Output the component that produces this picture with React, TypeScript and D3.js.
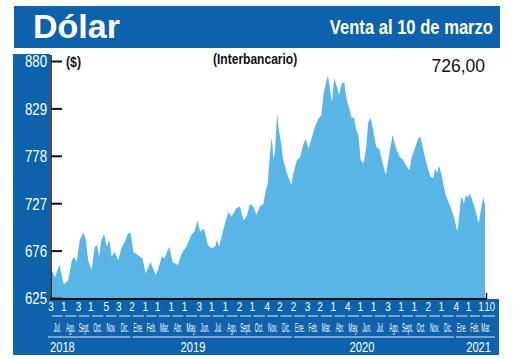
import React, { useEffect, useRef } from "react";
import * as d3 from "d3";

// dólar interbancario, venta (CLP)
const dates = [
  "2018-07-03", "2018-07-12", "2018-07-22", "2018-08-01", "2018-08-11", "2018-08-19", "2018-08-24", "2018-08-30",
  "2018-09-06", "2018-09-14", "2018-09-20", "2018-09-25", "2018-10-03", "2018-10-10", "2018-10-15", "2018-10-20",
  "2018-10-25", "2018-10-31", "2018-11-06", "2018-11-12", "2018-11-17", "2018-11-24", "2018-12-02", "2018-12-09",
  "2018-12-17", "2018-12-24", "2018-12-30", "2019-01-05", "2019-01-14", "2019-01-26", "2019-02-02", "2019-02-13",
  "2019-02-19", "2019-02-25", "2019-03-04", "2019-03-10", "2019-03-17", "2019-03-27", "2019-04-04", "2019-04-16",
  "2019-04-24", "2019-05-05", "2019-05-16", "2019-05-24", "2019-05-30", "2019-06-05", "2019-06-14", "2019-06-23",
  "2019-07-01", "2019-07-09", "2019-07-13", "2019-07-18", "2019-07-28", "2019-08-08", "2019-08-15", "2019-08-26",
  "2019-09-03", "2019-09-11", "2019-09-18", "2019-09-26", "2019-10-03", "2019-10-11", "2019-10-18", "2019-10-26",
  "2019-10-31", "2019-11-05", "2019-11-10", "2019-11-14", "2019-11-18", "2019-11-22", "2019-11-26", "2019-11-29",
  "2019-12-05", "2019-12-10", "2019-12-18", "2019-12-28", "2020-01-02", "2020-01-10", "2020-01-17", "2020-01-25",
  "2020-01-30", "2020-02-05", "2020-02-13", "2020-02-20", "2020-02-28", "2020-03-05", "2020-03-10", "2020-03-16",
  "2020-03-20", "2020-03-25", "2020-03-29", "2020-04-03", "2020-04-09", "2020-04-14", "2020-04-20", "2020-04-26",
  "2020-04-28", "2020-05-02", "2020-05-08", "2020-05-13", "2020-05-18", "2020-05-23", "2020-05-28", "2020-06-02",
  "2020-06-08", "2020-06-14", "2020-06-19", "2020-06-25", "2020-07-01", "2020-07-07", "2020-07-14", "2020-07-22",
  "2020-07-29", "2020-08-06", "2020-08-13", "2020-08-21", "2020-08-30", "2020-09-06", "2020-09-14", "2020-09-20",
  "2020-09-25", "2020-10-02", "2020-10-10", "2020-10-15", "2020-10-21", "2020-10-27", "2020-11-02", "2020-11-07",
  "2020-11-13", "2020-11-17", "2020-11-22", "2020-11-26", "2020-12-02", "2020-12-07", "2020-12-13", "2020-12-19",
  "2020-12-27", "2021-01-01", "2021-01-05", "2021-01-08", "2021-01-14", "2021-01-18", "2021-01-21", "2021-01-26",
  "2021-01-31", "2021-02-04", "2021-02-09", "2021-02-15", "2021-02-20", "2021-02-24", "2021-03-02", "2021-03-06",
  "2021-03-10",
];
const values = [
  657, 648, 661, 640, 645, 666, 670, 664,
  688, 696, 688, 666, 656, 681, 682, 670,
  688, 694, 681, 688, 670, 675, 666, 679,
  686, 695, 696, 675, 672, 668, 652, 664,
  657, 650, 659, 670, 668, 681, 664, 661,
  673, 681, 693, 698, 709, 697, 700, 682,
  679, 681, 688, 681, 700, 718, 713, 722,
  724, 709, 713, 727, 724, 715, 724, 727,
  740, 749, 781, 799, 774, 788, 824, 810,
  792, 774, 760, 747, 760, 774, 777, 792,
  797, 786, 799, 810, 819, 822, 845, 858,
  865, 849, 836, 862, 853, 844, 856, 858,
  849, 838, 828, 819, 820, 806, 801, 774,
  770, 785, 815, 819, 804, 788, 786, 770,
  758, 781, 801, 786, 777, 774, 767, 763,
  776, 786, 797, 799, 786, 774, 763, 756,
  754, 765, 760, 768, 758, 745, 734, 727,
  717, 709, 699, 700, 731, 734, 727, 736,
  734, 738, 731, 722, 713, 706, 724, 734,
  726,
];

const yTicks = [625, 676, 727, 778, 829, 880];

// first day shown for each month, Jul 2018 .. Mar 2021
const monthStarts = [
  "2018-07-03", "2018-08-01", "2018-09-03", "2018-10-01", "2018-11-05", "2018-12-03",
  "2019-01-02", "2019-02-01", "2019-03-01", "2019-04-01", "2019-05-01", "2019-06-03",
  "2019-07-01", "2019-08-01", "2019-09-02", "2019-10-01", "2019-11-04", "2019-12-02",
  "2020-01-02", "2020-02-03", "2020-03-02", "2020-04-01", "2020-05-04", "2020-06-01",
  "2020-07-01", "2020-08-03", "2020-09-01", "2020-10-01", "2020-11-02", "2020-12-01",
  "2021-01-04", "2021-02-01", "2021-03-01",
];
const monthNames = ["Ene.", "Feb.", "Mar.", "Abr.", "May.", "Jun.", "Jul.", "Ago.", "Sept.", "Oct.", "Nov.", "Dic."];

const years = ["2018", "2019", "2020", "2021"];
const yearLabelAt = ["2018-07-03", "2019-05-20", "2020-06-05", "2021-03-10"];

const title = "Dólar";
const subtitle = "Venta al 10 de marzo";
const lastValue = "726,00";

const BLUE = "#0d62ab";
const FILL = "#58b5e5";
const SANS = "'Liberation Sans', Arial, sans-serif";

const W = 520;
const H = 359;

const App = () => {
  const ref = useRef<SVGSVGElement>(null);

  useEffect(() => {
    const svg = d3.select(ref.current);
    svg.selectAll("*").remove();

    // condensed text: regular sans squeezed horizontally
    const label = (g, px, py, txt, size, sx, opts: any = {}) =>
      g.append("text")
        .attr("transform", `translate(${px},${py}) scale(${sx},1)`)
        .attr("text-anchor", opts.anchor || "start")
        .attr("dy", opts.dy || null)
        .attr("fill", opts.fill || "#fff")
        .style("font", `${opts.weight || "normal"} ${size}px ${SANS}`)
        .text(txt);

    const parse = d3.timeParse("%Y-%m-%d");
    const data = dates.map((d, i) => ({ date: parse(d) as Date, value: values[i] }));
    const start = data[0].date;
    const end = data[data.length - 1].date;

    const x = d3.scaleTime().domain([start, end]).range([51, 485]);
    const y = d3.scaleLinear().domain([625, 880]).range([298.5, 61.5]);

    // header band
    svg.append("rect").attr("x", 14).attr("y", 6).attr("width", 486).attr("height", 42).attr("fill", BLUE);
    svg.append("text")
      .attr("x", 33).attr("y", 38)
      .attr("fill", "#fff")
      .style("font", `bold 34px ${SANS}`)
      .text(title);
    label(svg, 493, 34, subtitle, 20, 0.83, { anchor: "end", weight: "bold" });

    // left column + bottom band
    svg.append("rect").attr("x", 13).attr("y", 54).attr("width", 37).attr("height", 301).attr("fill", BLUE);
    svg.append("rect").attr("x", 13).attr("y", 299).attr("width", 486).attr("height", 56).attr("fill", BLUE);

    // area
    const area = d3.area<{ date: Date; value: number }>()
      .x((d) => x(d.date))
      .y0(y(625))
      .y1((d) => y(d.value));
    svg.append("path").datum(data).attr("d", area).attr("fill", FILL);

    // axes
    svg.append("line").attr("x1", 51).attr("x2", 51).attr("y1", 55).attr("y2", 299.5)
      .attr("stroke", "#111").attr("stroke-width", 1.5);
    svg.append("line").attr("x1", 50).attr("x2", x(end) + 1.5).attr("y1", 299).attr("y2", 299)
      .attr("stroke", "#111").attr("stroke-width", 2);
    svg.append("line").attr("x1", x(end) + 1.5).attr("x2", x(end) + 1.5).attr("y1", 293).attr("y2", 299)
      .attr("stroke", "#111").attr("stroke-width", 1.5);

    const yg = svg.append("g");
    yg.selectAll("line")
      .data(yTicks)
      .enter()
      .append("line")
      .attr("x1", 51).attr("x2", 62)
      .attr("y1", (d) => y(d)).attr("y2", (d) => y(d))
      .attr("stroke", "#111").attr("stroke-width", 2);
    yTicks.forEach((t) => label(yg, 47, y(t), t, 16.5, 0.8, { anchor: "end", dy: "0.36em" }));

    // top labels
    label(svg, 66, 67, "($)", 15, 0.82, { weight: "bold", fill: "#111" });
    label(svg, 213, 64, "(Interbancario)", 14, 0.86, { weight: "bold", fill: "#111" });
    svg.append("text").attr("x", 485).attr("y", 72).attr("text-anchor", "end")
      .style("font", `17.5px ${SANS}`).attr("fill", "#111").text(lastValue);

    // month rows
    const starts = monthStarts.map((d) => parse(d) as Date);
    const months = starts.map((s, i) => {
      const first = new Date(s.getFullYear(), s.getMonth(), 1);
      const next = i < starts.length - 1 ? new Date(s.getFullYear(), s.getMonth() + 1, 1) : end;
      const a = Math.max(x(first), x(start));
      const b = Math.min(x(next), x(end));
      return { s, a, b, name: monthNames[s.getMonth()], last: i === starts.length - 1 };
    });
    let prev = -100;
    const centers = months.map((m) => {
      let c = (m.a + m.b) / 2;
      if (c - prev < 11) c = prev + 11;
      prev = c;
      return c;
    });

    const xg = svg.append("g");
    months.forEach((m) => label(xg, x(m.s), 311, m.s.getDate(), 12.5, 0.8, { anchor: "middle" }));
    label(xg, x(end) - 0.5, 311, d3.timeFormat("%-d")(end), 12.5, 0.75);

    xg.selectAll("line.under")
      .data(months)
      .enter()
      .append("line")
      .attr("class", "under")
      .attr("x1", (m) => m.a + 1.2)
      .attr("x2", (m) => (m.last ? m.b + 10 : m.b - 1.2))
      .attr("y1", 316).attr("y2", 316)
      .attr("stroke", "#dfe9f4").attr("stroke-width", 1);

    months.forEach((m, i) => label(xg, centers[i], 331.5, m.name, 13, 0.36, { anchor: "middle" }));

    // year rows
    years.forEach((yr, i) => {
      const y0 = new Date(+yr, 0, 1);
      const y1 = new Date(+yr + 1, 0, 1);
      const a = i === 0 ? x(start) - 3 : x(y0) + 1;
      const b = i === years.length - 1 ? x(end) + 10 : x(y1) - 1;
      xg.append("line")
        .attr("x1", a).attr("x2", b)
        .attr("y1", 337).attr("y2", 337)
        .attr("stroke", "#dfe9f4").attr("stroke-width", 1);
      const anchor = i === 0 ? "start" : i === years.length - 1 ? "end" : "middle";
      const px = x(parse(yearLabelAt[i]) as Date) + (i === 0 ? -1 : i === years.length - 1 ? 6 : 0);
      label(xg, px, 351.5, yr, 15.5, 0.72, { anchor });
    });
  }, []);

  return (
    <svg
      ref={ref}
      width={W}
      height={H}
      style={{ position: "absolute", left: 0, top: 0, background: "#fff" }}
    ></svg>
  );
};

export default App;
